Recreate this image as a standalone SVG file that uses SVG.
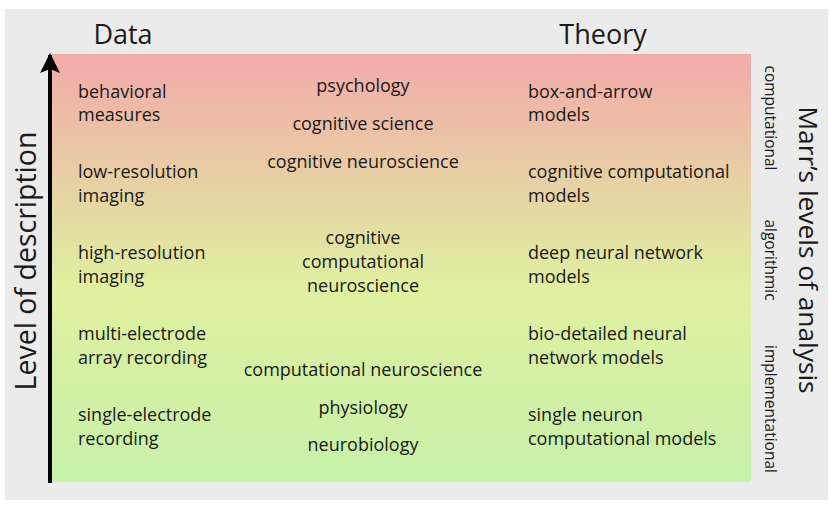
<svg xmlns="http://www.w3.org/2000/svg" width="830" height="514" viewBox="0 0 830 514">
<defs>
<linearGradient id="bg" x1="0" y1="0" x2="0" y2="1">
<stop offset="0" stop-color="#f3aaaa"/>
<stop offset="0.38" stop-color="#e4dba3"/>
<stop offset="0.55" stop-color="#e0f0a0"/>
<stop offset="1" stop-color="#c6f1a9"/>
</linearGradient>
<marker id="ah" markerWidth="20" markerHeight="20" viewBox="0 0 20 20" refX="18" refY="10" orient="auto" markerUnits="userSpaceOnUse">
<path d="M0,0 L20,10 L0,20 L4,10 Z" fill="#000"/>
</marker>
<style>
text{font-family:"Open Sans","Noto Sans","Liberation Sans",sans-serif;fill:#1a1a1a}
.t{font-size:18px}
.m{font-size:18px;text-anchor:middle}
.h{font-size:27px;text-anchor:middle}
.s{font-size:15.5px;text-anchor:middle}
</style>
</defs>
<rect x="5" y="9" width="823" height="491" fill="#ebebeb"/>
<rect x="52" y="54" width="699" height="428" fill="url(#bg)"/>
<g id="connectors">
<line x1="50" y1="483" x2="50" y2="55" stroke="#000" stroke-width="4" marker-end="url(#ah)"/>
</g>
<g id="header-data"><text class="h" x="123" y="44">Data</text></g>
<g id="header-theory"><text class="h" x="603" y="44">Theory</text></g>
<g id="axis-left"><text class="h" style="font-size:28.5px" transform="translate(36,261) rotate(-90)">Level of description</text></g>
<g id="axis-right"><text class="h" style="font-size:26.3px" transform="translate(799,250) rotate(90)">Marr’s levels of analysis</text></g>
<g id="marr-computational"><text class="s" transform="translate(765,118) rotate(90)">computational</text></g>
<g id="marr-algorithmic"><text class="s" transform="translate(765,260) rotate(90)">algorithmic</text></g>
<g id="marr-implementational"><text class="s" transform="translate(765,409) rotate(90)">implementational</text></g>
<g id="data-behavioral"><text class="t" x="78" y="98">behavioral</text><text class="t" x="78" y="121">measures</text></g>
<g id="data-lowres"><text class="t" x="78" y="178">low-resolution</text><text class="t" x="78" y="202">imaging</text></g>
<g id="data-highres"><text class="t" x="78" y="259">high-resolution</text><text class="t" x="78" y="283">imaging</text></g>
<g id="data-multi"><text class="t" x="78" y="340">multi-electrode</text><text class="t" x="78" y="364">array recording</text></g>
<g id="data-single"><text class="t" x="78" y="421">single-electrode</text><text class="t" x="78" y="445">recording</text></g>
<g id="field-psychology"><text class="m" x="363" y="92">psychology</text></g>
<g id="field-cogsci"><text class="m" x="363" y="130">cognitive science</text></g>
<g id="field-cogneuro"><text class="m" x="363" y="168">cognitive neuroscience</text></g>
<g id="field-ccn"><text class="m" x="363" y="244">cognitive</text><text class="m" x="363" y="268">computational</text><text class="m" x="363" y="292">neuroscience</text></g>
<g id="field-compneuro"><text class="m" x="363" y="376">computational neuroscience</text></g>
<g id="field-physiology"><text class="m" x="363" y="414">physiology</text></g>
<g id="field-neurobiology"><text class="m" x="363" y="451">neurobiology</text></g>
<g id="theory-box"><text class="t" x="528" y="98">box-and-arrow</text><text class="t" x="528" y="121">models</text></g>
<g id="theory-ccm"><text class="t" x="528" y="178">cognitive computational</text><text class="t" x="528" y="202">models</text></g>
<g id="theory-dnn"><text class="t" x="528" y="259">deep neural network</text><text class="t" x="528" y="283">models</text></g>
<g id="theory-bio"><text class="t" x="528" y="340">bio-detailed neural</text><text class="t" x="528" y="364">network models</text></g>
<g id="theory-single"><text class="t" x="528" y="421">single neuron</text><text class="t" x="528" y="445">computational models</text></g>
</svg>
